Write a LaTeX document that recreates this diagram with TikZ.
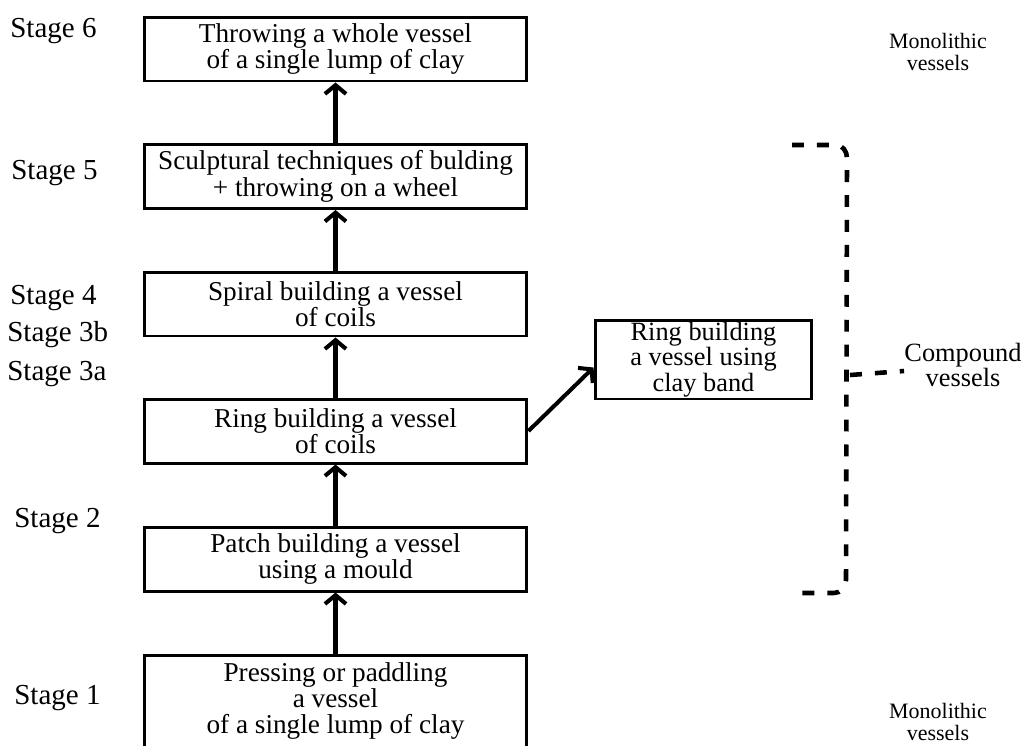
\documentclass[tikz,border=0pt]{standalone}
\usepackage{fontspec}
\setmainfont{Liberation Serif}
\usetikzlibrary{arrows.meta}

\begin{document}
\begin{tikzpicture}[x=0.02cm, y=-0.02cm,
    stagebox/.style={draw, line width=1.7pt, minimum width=7.66cm, minimum height=1.28cm,
        align=center, inner sep=0pt, font=\fontsize{15.5}{15}\selectfont},
    sidebox/.style={draw, line width=1.7pt, minimum width=4.34cm, minimum height=1.58cm,
        align=center, inner sep=0pt, font=\fontsize{15}{12.5}\selectfont},
    stagelabel/.style={anchor=west, inner sep=0pt, font=\fontsize{16.5}{16}\selectfont},
    grouplabel/.style={align=center, inner sep=0pt, font=\fontsize{12.5}{13}\selectfont},
    flow/.style={line width=2.3pt, -{Straight Barb[length=5pt, width=12pt]}},
    bracket/.style={line width=2.6pt, dash pattern=on 6.8pt off 7.4pt}]

    \useasboundingbox (0,0) rectangle (1024,745);

    % Stage boxes, bottom to top
    \node[stagebox, minimum height=1.84cm] (b1) at (335.5,701) {Pressing or paddling\\a vessel\\of a single lump of clay};
    \node[stagebox] (b2) at (335.5,559) {Patch building a vessel\\using a mould};
    \node[stagebox] (b3a) at (335.5,431) {Ring building a vessel\\of coils};
    \node[stagebox] (b4) at (335.5,304) {Spiral building a vessel\\of coils};
    \node[stagebox] (b5) at (335.5,176.5) {Sculptural techniques of bulding\\+ throwing on a wheel};
    \node[stagebox] (b6) at (335.5,49) {Throwing a whole vessel\\of a single lump of clay};

    % Side branch (stage 3b)
    \node[sidebox] (b3b) at (703.5,359.5) {Ring building\\a vessel using\\clay band};

    % Stage labels on the left
    \node[stagelabel] (s6) at (10,31) {Stage 6};
    \node[stagelabel] (s5) at (11,173) {Stage 5};
    \node[stagelabel] (s4) at (10,298) {Stage 4};
    \node[stagelabel] (s3b) at (7,335) {Stage 3b};
    \node[stagelabel] (s3a) at (7,374) {Stage 3a};
    \node[stagelabel] (s2) at (14,521) {Stage 2};
    \node[stagelabel] (s1) at (14,698) {Stage 1};

    % Group labels on the right
    \node[grouplabel] (mono6) at (938,52) {Monolithic\\vessels};
    \node[grouplabel, font=\fontsize{15}{14}\selectfont] (comp) at (963,365) {Compound\\vessels};
    \node[grouplabel] (mono1) at (938,722) {Monolithic\\vessels};

    % Arrows between the stages
    \draw[flow] (b1) -- (b2);
    \draw[flow] (b2) -- (b3a);
    \draw[flow] (b3a) -- (b4);
    \draw[flow] (b4) -- (b5);
    \draw[flow] (b5) -- (b6);
    \draw[flow] (b3a.east) -- ([yshift=-0.16cm]b3b.west);

    % Dashed bracket round the compound stages
    \draw[bracket] (792,145) -- (836,145) to[out=0, in=90] (847,158) -- (846,580)
        to[out=-90, in=0] (834,593) -- (792,593);
    \coordinate (tick) at (850,375);
    \draw[bracket] (tick) -- ([yshift=-0.12cm]comp.west);

\end{tikzpicture}
\end{document}
